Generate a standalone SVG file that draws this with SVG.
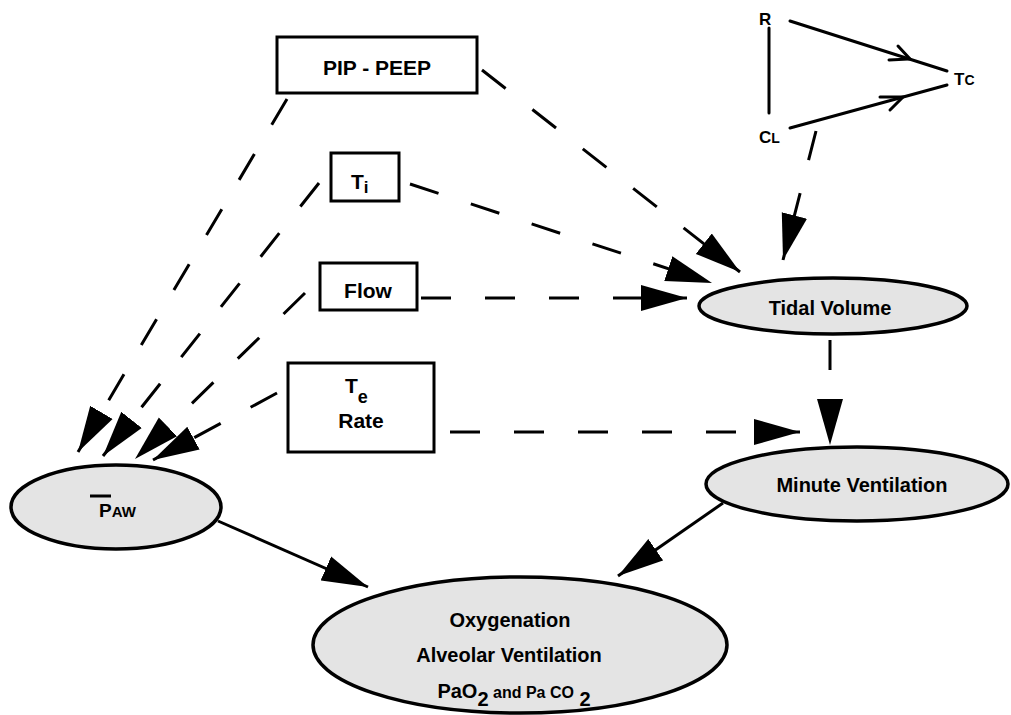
<svg xmlns="http://www.w3.org/2000/svg" width="1011" height="715" viewBox="0 0 1011 715">
<style>
text{font-family:"Liberation Sans",Arial,sans-serif;font-weight:bold;fill:#000}
.box{fill:#fff;stroke:#000;stroke-width:3}
.ell{fill:#e4e4e4;stroke:#000;stroke-width:3.5}
.dash{fill:none;stroke:#000;stroke-width:3;stroke-dasharray:30 34;marker-end:url(#ah)}
.solid{fill:none;stroke:#000;stroke-width:3;marker-end:url(#ah)}
.thin{fill:none;stroke:#000;stroke-width:3;stroke-linecap:round}
</style>
<defs>
<marker id="ah" markerUnits="userSpaceOnUse" markerWidth="46" markerHeight="28" viewBox="0 0 46 28" refX="46" refY="14" orient="auto">
<path d="M0,1 L46,14 L0,27 z" fill="#000"/>
</marker>
</defs>
<rect width="1011" height="715" fill="#fff"/>

<g id="connectors">
<line class="dash" x1="482" y1="70" x2="740" y2="272"/>
<line class="dash" x1="410" y1="184" x2="712" y2="283"/>
<line class="dash" x1="421" y1="298" x2="687" y2="298"/>
<line class="dash" x1="816" y1="131" x2="783" y2="260"/>
<line class="dash" x1="450" y1="432" x2="800" y2="432"/>
<line class="dash" x1="830" y1="340" x2="830" y2="445"/>
<line class="dash" x1="287" y1="99" x2="78" y2="452"/>
<line class="dash" x1="319" y1="183" x2="103" y2="456"/>
<line class="dash" x1="305" y1="293" x2="135" y2="459"/>
<line class="dash" x1="277" y1="393" x2="153" y2="460"/>
<line class="solid" x1="218" y1="521" x2="368" y2="587"/>
<line class="solid" x1="723" y1="503" x2="618" y2="576"/>
<line class="thin" x1="769" y1="28" x2="769" y2="113"/>
<line class="thin" x1="790" y1="21" x2="947" y2="71"/>
<line class="thin" x1="790" y1="128" x2="947" y2="85"/>
<polyline class="thin" points="889,60 910,59 898,46"/>
<polyline class="thin" points="880,97 903,97 890,110"/>
</g>

<g id="node-pip-peep">
<rect class="box" x="277" y="37" width="200" height="56"/>
<text x="377" y="75" font-size="21" text-anchor="middle">PIP - PEEP</text>
</g>
<g id="node-ti">
<rect class="box" x="331" y="153" width="68" height="48"/>
<text x="351" y="189" font-size="21">T<tspan font-size="17" dy="4">i</tspan></text>
</g>
<g id="node-flow">
<rect class="box" x="320" y="263" width="97" height="47"/>
<text x="368" y="298" font-size="21" text-anchor="middle">Flow</text>
</g>
<g id="node-te-rate">
<rect class="box" x="288" y="363" width="146" height="89"/>
<text x="345" y="393" font-size="21">T<tspan font-size="18" dy="10">e</tspan></text>
<text x="361" y="428" font-size="21" text-anchor="middle">Rate</text>
</g>
<g id="node-tc-triangle">
<text x="759" y="25" font-size="17">R</text>
<text x="954" y="85" font-size="17">T<tspan font-size="14">C</tspan></text>
<text x="759" y="143" font-size="17">C<tspan font-size="14">L</tspan></text>
</g>
<g id="node-tidal-volume">
<ellipse class="ell" cx="833" cy="306" rx="134" ry="28"/>
<text x="830" y="315" font-size="20" text-anchor="middle">Tidal Volume</text>
</g>
<g id="node-minute-ventilation">
<ellipse class="ell" cx="857" cy="484" rx="151" ry="37"/>
<text x="862" y="492" font-size="20" text-anchor="middle">Minute Ventilation</text>
</g>
<g id="node-paw">
<ellipse class="ell" cx="116" cy="507" rx="105" ry="42"/>
<line x1="90" y1="496" x2="111" y2="496" stroke="#000" stroke-width="3"/>
<text x="99" y="517" font-size="19">P<tspan font-size="15">AW</tspan></text>
</g>
<g id="node-oxygenation">
<ellipse class="ell" cx="520" cy="645" rx="207" ry="68"/>
<text x="510" y="627" font-size="20" text-anchor="middle">Oxygenation</text>
<text x="509" y="662" font-size="20" text-anchor="middle">Alveolar Ventilation</text>
<text x="514" y="698" font-size="20" text-anchor="middle">PaO<tspan dy="8">2</tspan><tspan font-size="16" dy="-8"> and Pa CO</tspan><tspan font-size="20" dy="8"> 2</tspan></text>
</g>
</svg>
